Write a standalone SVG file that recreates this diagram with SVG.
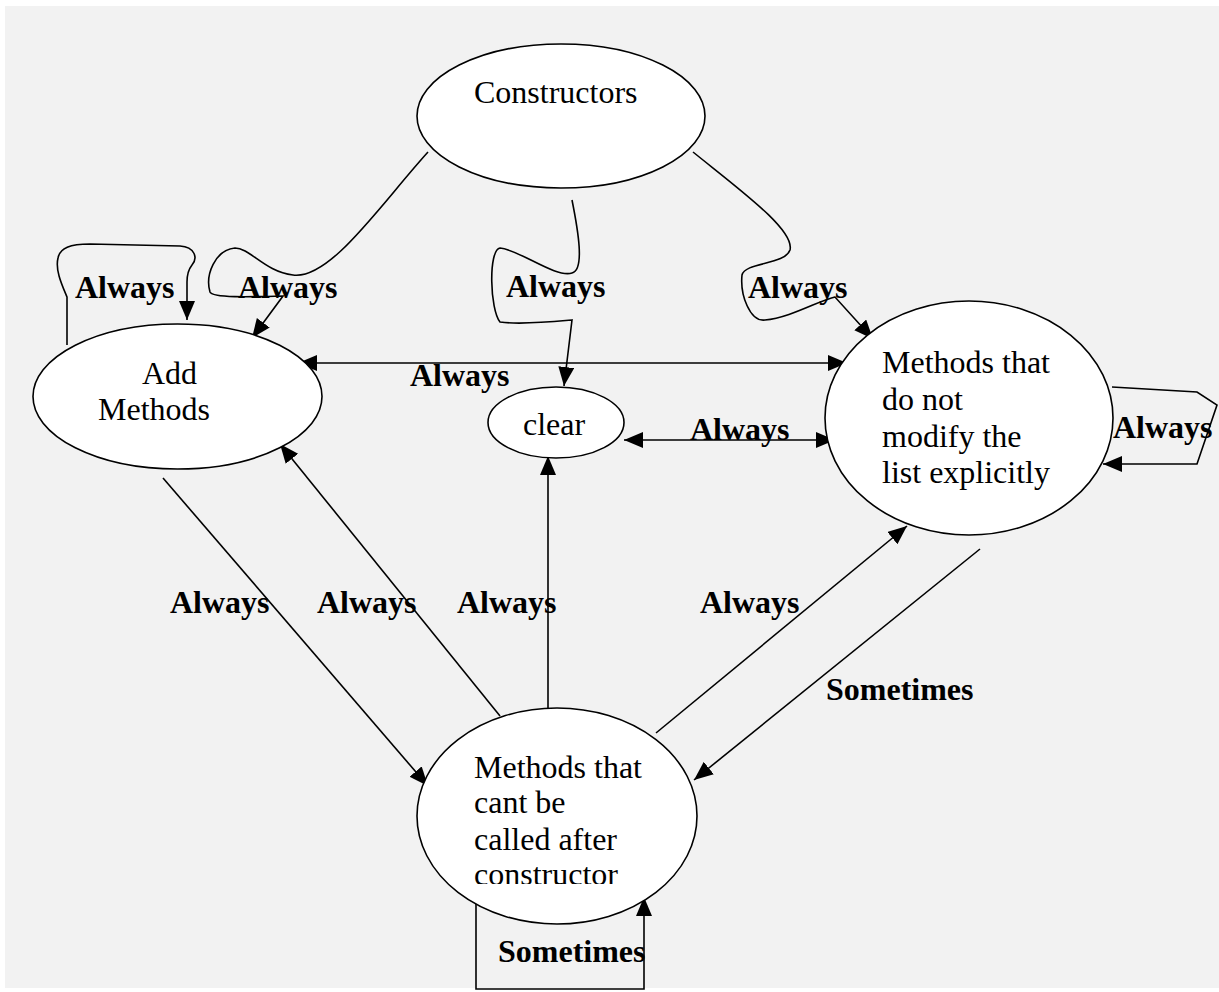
<svg xmlns="http://www.w3.org/2000/svg" width="1219" height="992" viewBox="0 0 1219 992">
<style>
.bg{fill:#f2f2f2}
.node{fill:#ffffff;stroke:#000;stroke-width:1.6}
text{font-family:"Times New Roman","Liberation Serif",Tinos,"Noto Serif","DejaVu Serif",serif;font-size:32px;fill:#000}
.lb{font-weight:bold}
.c{fill:none;stroke:#000;stroke-width:1.6}
</style>
<defs>
<marker id="ah" markerUnits="userSpaceOnUse" markerWidth="22" markerHeight="18" refX="19" refY="8" orient="auto-start-reverse">
<path d="M0,0 L19,8 L0,16 z" fill="#000"/>
</marker>
<clipPath id="clipC"><rect x="400" y="700" width="300" height="184"/></clipPath>
</defs>
<rect class="bg" x="5" y="6" width="1214" height="982"/>

<g id="connectors">
<path class="c" d="M428,152 C380,205 330,280 293,275 C265,272 250,248 235,248 C215,250 205,275 210,292 C212,298 250,297 283,296 L252,338" marker-end="url(#ah)"/>
<path class="c" d="M572,200 C578,230 585,270 572,273 C555,278 520,250 500,248 C488,250 490,310 500,322 C520,325 550,322 572,320 L564,386" marker-end="url(#ah)"/>
<path class="c" d="M693,152 C740,190 795,230 790,250 C785,265 745,262 742,275 C740,295 750,322 765,320 C790,318 820,300 835,297 L873,339" marker-end="url(#ah)"/>
<path class="c" d="M67,345 L67,297 C62,285 55,270 58,258 C60,248 70,244 90,244 L180,246 C195,247 198,258 192,265 C188,270 187,275 187,282 L187,320" marker-end="url(#ah)"/>
<path class="c" d="M298,363 L847,363" marker-start="url(#ah)" marker-end="url(#ah)"/>
<path class="c" d="M624,440 L835,440" marker-start="url(#ah)" marker-end="url(#ah)"/>
<path class="c" d="M1112,387 L1197,392 L1217,405 L1197,464 L1103,464" marker-end="url(#ah)"/>
<path class="c" d="M163,478 L428,786" marker-end="url(#ah)"/>
<path class="c" d="M500,716 L280,444" marker-end="url(#ah)"/>
<path class="c" d="M548,716 L548,456" marker-end="url(#ah)"/>
<path class="c" d="M656,733 L907,526" marker-end="url(#ah)"/>
<path class="c" d="M980,549 L694,780" marker-end="url(#ah)"/>
<path class="c" d="M476,896 L476,989 L644,989 L644,897" marker-end="url(#ah)"/>
</g>

<g id="labels">
<text class="lb" x="75" y="298">Always</text>
<text class="lb" x="238" y="298">Always</text>
<text class="lb" x="506" y="297">Always</text>
<text class="lb" x="748" y="298">Always</text>
<text class="lb" x="410" y="386">Always</text>
<text class="lb" x="690" y="440">Always</text>
<text class="lb" x="1113" y="438">Always</text>
<text class="lb" x="170" y="613">Always</text>
<text class="lb" x="317" y="613">Always</text>
<text class="lb" x="457" y="613">Always</text>
<text class="lb" x="700" y="613">Always</text>
<text class="lb" x="826" y="700">Sometimes</text>
<text class="lb" x="498" y="962">Sometimes</text>
</g>

<g id="constructors">
<ellipse class="node" cx="561" cy="116" rx="144" ry="72"/>
<text x="474" y="103">Constructors</text>
</g>

<g id="add-methods">
<ellipse class="node" cx="177.5" cy="396.5" rx="144.5" ry="72.5"/>
<text x="142" y="384">Add</text>
<text x="98" y="420">Methods</text>
</g>

<g id="clear">
<ellipse class="node" cx="556" cy="422.5" rx="68" ry="35.5"/>
<text x="523" y="435">clear</text>
</g>

<g id="no-modify">
<ellipse class="node" cx="969" cy="418" rx="144" ry="117"/>
<text x="882" y="373">Methods that</text>
<text x="882" y="410">do not</text>
<text x="882" y="447">modify the</text>
<text x="882" y="483">list explicitly</text>
</g>

<g id="cant-call">
<ellipse class="node" cx="557" cy="816" rx="140" ry="108"/>
<text x="474" y="778">Methods that</text>
<text x="474" y="813">cant be</text>
<text x="474" y="850">called after</text>
<text x="474" y="885" clip-path="url(#clipC)">constructor</text>
</g>
</svg>
